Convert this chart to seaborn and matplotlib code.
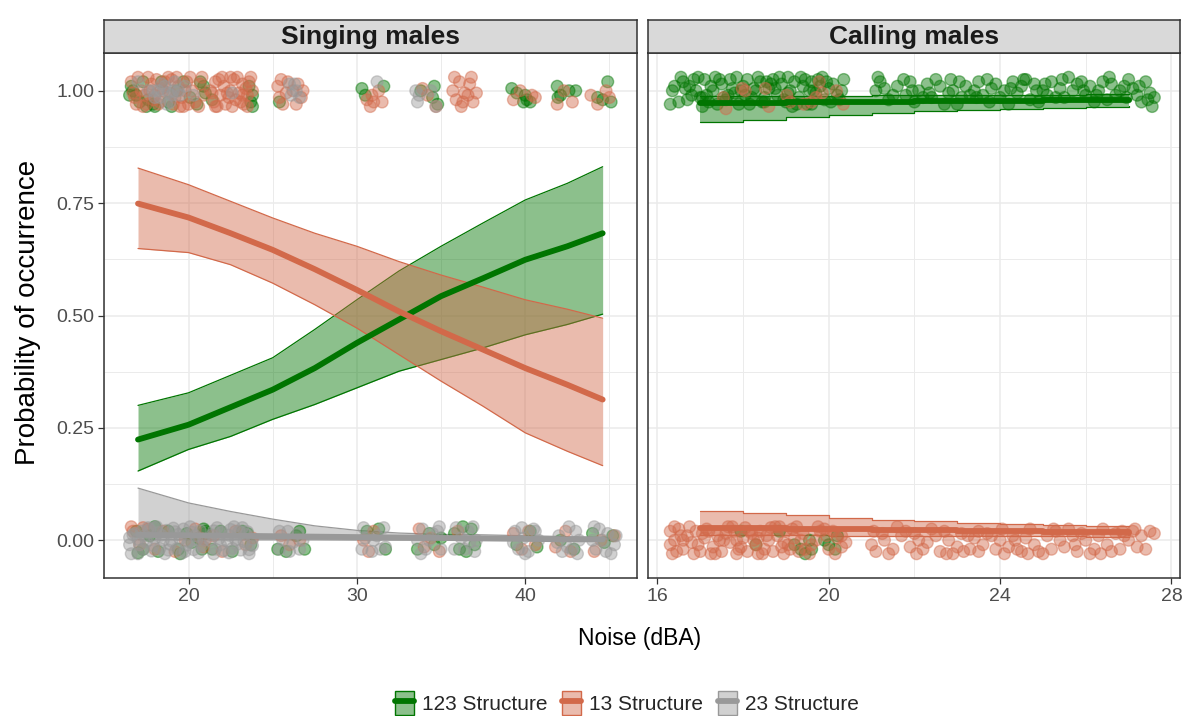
import pandas as pd
import matplotlib
matplotlib.use("Agg")
import matplotlib.pyplot as plt
import seaborn as sns
from matplotlib.patches import Patch
from matplotlib.lines import Line2D
from matplotlib.colors import to_rgba
from matplotlib.ticker import MultipleLocator, FormatStrFormatter

# ---------------- data ----------------
structures = ["123 Structure", "13 Structure", "23 Structure"]
colors = {"123 Structure": "#007500", "13 Structure": "#D2694A", "23 Structure": "#999999"}

# fitted curves, singing males
sing_x = [17.0, 20.0, 22.5, 25.0, 27.5, 30.0, 32.5, 35.0, 37.5, 40.0, 42.5, 44.6]
sing_123_fit = [0.224, 0.257, 0.296, 0.335, 0.383, 0.439, 0.491, 0.543, 0.583, 0.624, 0.654, 0.683]
sing_123_lo = [0.154, 0.202, 0.231, 0.269, 0.302, 0.339, 0.376, 0.402, 0.428, 0.457, 0.480, 0.503]
sing_123_hi = [0.300, 0.328, 0.367, 0.406, 0.469, 0.535, 0.599, 0.654, 0.706, 0.757, 0.794, 0.831]
sing_13_fit = [0.749, 0.718, 0.683, 0.646, 0.603, 0.557, 0.509, 0.465, 0.424, 0.383, 0.346, 0.313]
sing_13_lo = [0.649, 0.640, 0.613, 0.572, 0.524, 0.472, 0.413, 0.354, 0.298, 0.239, 0.198, 0.166]
sing_13_hi = [0.828, 0.791, 0.754, 0.717, 0.683, 0.654, 0.620, 0.590, 0.563, 0.535, 0.514, 0.494]
sing_23_fit = [0.012, 0.011, 0.010, 0.009, 0.008, 0.007, 0.006, 0.005, 0.004, 0.003, 0.002, 0.002]
sing_23_lo = [0.001, 0.001, 0.001, 0.001, 0.001, 0.0005, 0.0005, 0.0003, 0.0003, 0.0002, 0.0002, 0.0001]
sing_23_hi = [0.116, 0.083, 0.064, 0.047, 0.032, 0.022, 0.016, 0.013, 0.012, 0.010, 0.008, 0.006]

# fitted curves, calling males
call_x = [17, 18, 19, 20, 21, 22, 23, 24, 25, 26, 27]
call_123_fit = [0.972, 0.973, 0.974, 0.975, 0.976, 0.977, 0.977, 0.978, 0.979, 0.979, 0.980]
call_123_lo = [0.930, 0.936, 0.942, 0.947, 0.951, 0.954, 0.957, 0.960, 0.962, 0.964, 0.966]
call_123_hi = [0.988, 0.988, 0.989, 0.989, 0.990, 0.990, 0.991, 0.991, 0.991, 0.992, 0.992]
call_13_fit = [0.028, 0.027, 0.026, 0.025, 0.023, 0.022, 0.021, 0.020, 0.019, 0.018, 0.017]
call_13_lo = [0.011, 0.011, 0.011, 0.010, 0.010, 0.010, 0.009, 0.009, 0.009, 0.008, 0.008]
call_13_hi = [0.064, 0.060, 0.056, 0.050, 0.046, 0.043, 0.039, 0.037, 0.034, 0.031, 0.031]

# jittered raw observations, singing males
sing_123_x = [
    16.6, 16.9, 17.3, 17.6, 17.9, 18.4, 18.8, 19.3, 19.7, 20.1, 20.5, 20.9,
    21.4, 23.7, 23.6, 25.4, 30.3, 30.5, 31.6, 33.8, 34.6, 34.8, 34.5,
    39.2, 39.5, 40.1, 40.3, 40.0, 39.9, 41.9, 41.95, 42.6, 43.0, 42.1,
    44.3, 44.9, 45.1, 44.6,
    16.9, 17.3, 17.7, 18.2, 18.8, 19.4, 19.9, 20.2, 20.6, 20.8, 21.0,
    21.4, 21.9, 22.6, 23.2, 23.7, 23.5, 25.3, 25.8, 26.6, 26.9, 26.4,
    30.6, 31.3, 31.7, 33.6, 34.3, 34.6, 35.0, 35.8, 36.3, 36.8, 36.1, 36.5, 37.0,
    39.5, 40.3, 40.7, 42.1, 42.9, 44.0, 44.7, 45.2,
    16.5, 16.7, 17.1, 17.5, 18.0, 19.0, 20.7, 21.0, 23.8, 23.8,
    21.0, 20.9, 17.0, 19.5, 18.0]
sing_123_y = [
    1.01, 0.99, 1.02, 0.98, 0.97, 1.02, 0.975, 1.00, 1.02, 0.985, 0.97, 1.01,
    0.98, 0.975, 1.01, 0.975, 1.005, 0.99, 1.01, 1.0, 1.01, 0.97, 0.985,
    1.005, 0.995, 0.98, 0.975, 0.99, 0.975, 1.01, 0.985, 1.0, 1.0, 0.99,
    0.985, 1.02, 0.975, 0.98,
    0.02, -0.02, 0.01, -0.025, 0.02, -0.02, 0.015, -0.005, 0.005, -0.02, 0.015,
    -0.02, 0.02, -0.025, 0.02, -0.01, 0.015, -0.02, -0.025, 0.02, -0.02, 0.01,
    0.02, 0.025, -0.02, -0.02, 0.015, -0.01, 0.005, 0.015, 0.03, 0.025, -0.02, -0.025, -0.01,
    -0.01, 0.02, -0.015, 0.0, -0.02, 0.015, -0.005, 0.01,
    0.99, 1.0, 0.975, 0.965, 0.965, 0.965, 1.02, 0.995, 0.99, 0.965,
    0.02, 0.025, -0.028, -0.03, 0.03]

sing_13_x = [
    16.6, 16.8, 17.2, 17.5, 17.8, 18.0, 18.3, 18.6, 18.9, 19.1, 19.4, 19.6, 19.9, 20.2, 20.4, 20.7, 20.9, 18.1, 19.0, 17.4,
    21.3, 21.5, 21.6, 21.9, 22.1, 22.2, 22.5, 22.7, 22.8, 23.0, 23.2, 23.3, 23.5, 23.6, 23.8, 22.4, 21.8, 23.1,
    25.3, 25.4, 25.6, 25.9, 26.2, 26.5, 26.7, 30.9, 31.0, 31.3, 30.8, 33.9, 34.2, 34.7,
    35.7, 35.9, 36.1, 36.4, 36.7, 36.9, 36.2, 36.6, 39.3, 39.7, 40.4, 40.6, 41.9, 42.3, 42.8, 43.9, 44.3, 44.8, 45.0,
    16.7, 17.0, 17.3, 17.7, 18.2, 18.5, 18.8, 19.2, 19.5, 19.8, 20.1, 20.6, 16.9, 17.6, 18.4, 19.3, 20.0, 20.8, 17.9, 19.7,
    21.4, 21.7, 22.0, 22.3, 22.6, 22.9, 23.2, 23.5, 23.7, 21.6, 22.5, 23.4,
    25.8, 26.4, 25.5, 26.8, 31.5, 30.6, 35.8, 36.3, 36.8, 37.1,
    16.7, 17.1, 17.6, 18.5, 19.2, 19.8, 20.4, 20.9, 18.0, 21.0,
    21.5, 22.0, 22.8, 23.4, 23.8, 25.5, 26.0, 26.6, 30.4, 30.7, 31.0,
    33.7, 34.0, 34.4, 34.9, 36.0, 39.3, 39.8, 40.2, 40.6,
    41.8, 42.4, 42.7, 44.1, 44.5, 45.3, 16.6, 17.3, 20.7]
sing_13_y = [
    1.02, 0.985, 1.0, 0.97, 1.015, 0.99, 0.975, 1.02, 0.995, 0.97, 1.01, 0.985, 1.02, 1.0, 0.975, 1.015, 0.99, 1.025, 1.025, 0.99,
    1.0, 0.975, 1.02, 0.99, 1.01, 0.97, 1.0, 1.025, 0.98, 0.995, 1.015, 0.97, 0.99, 1.02, 1.0, 0.985, 1.025, 0.975,
    1.01, 0.985, 0.97, 1.02, 1.0, 1.015, 0.985, 0.99, 0.975, 1.0, 0.965, 1.005, 0.99, 0.965,
    1.0, 0.98, 1.02, 0.995, 1.015, 0.975, 0.965, 0.99, 0.98, 1.0, 0.99, 0.985, 0.97, 1.0, 0.975, 0.99, 0.97, 1.0, 0.985,
    0.995, 1.03, 0.965, 1.0, 0.97, 1.0, 1.03, 0.985, 0.965, 1.0, 1.03, 0.965, 0.97, 1.03, 1.005, 1.03, 0.97, 1.03, 0.98, 0.965,
    0.995, 0.965, 1.03, 0.995, 0.965, 1.03, 0.99, 0.965, 1.03, 0.965, 1.03, 1.005,
    0.995, 0.97, 1.025, 1.0, 0.975, 0.98, 1.03, 0.975, 1.03, 0.995,
    0.02, -0.01, 0.025, 0.02, -0.025, 0.0, 0.025, -0.015, -0.02, 0.0,
    0.01, -0.025, 0.02, -0.01, 0.005, 0.01, -0.01, 0.0, 0.0, -0.025, 0.02,
    0.025, -0.015, 0.005, -0.025, 0.02, 0.015, -0.02, 0.02, -0.01,
    -0.015, 0.02, -0.025, -0.025, 0.0, 0.01, 0.03, 0.028, 0.005]

sing_23_x = [
    17.0, 17.9, 18.3, 18.6, 18.9, 19.2, 19.5, 18.7, 22.6, 26.3, 26.6, 26.1, 31.2, 33.5, 33.7, 34.7,
    17.6, 18.0, 18.4, 18.8, 19.1, 19.4, 19.8, 20.3, 18.2, 19.0, 26.4, 26.0, 33.6, 34.4,
    17.2, 17.7, 18.2, 18.7, 19.2, 19.7, 20.2, 20.7,
    17.0, 17.5, 18.0, 18.5, 19.0, 19.5, 20.0, 20.5, 20.9,
    17.3, 17.8, 18.3, 18.8, 19.3, 19.8, 20.3,
    16.5, 16.6, 16.8,
    16.7, 17.1, 17.4, 17.9, 18.4, 18.9, 19.4, 19.9, 20.4, 20.8, 17.6, 18.1, 18.6, 19.1, 19.6, 20.1, 20.6, 16.5, 17.0, 18.0,
    21.5, 22.0, 22.5, 23.0, 23.5, 21.3, 21.8, 22.3, 22.8, 23.3, 23.8, 21.6, 22.1, 22.6, 23.1, 23.6,
    21.4, 21.9, 22.4, 22.9, 23.4, 23.8, 21.7, 22.7, 23.6, 21.5, 22.4, 23.2,
    25.4, 25.9, 26.5, 25.6, 26.2, 26.8, 25.4, 26.0, 26.6,
    30.3, 30.5, 31.4, 31.7, 30.9, 31.2,
    33.6, 33.9, 34.5, 35.0, 34.1, 34.8,
    35.8, 36.2, 36.6, 37.1, 36.4, 37.0,
    39.4, 39.9, 40.5, 39.6, 40.2, 40.8, 39.3,
    42.0, 42.5, 43.0, 42.2, 42.8, 43.2,
    44.0, 44.4, 44.9, 45.3, 44.2, 44.8, 45.4,
    30.4, 31.0, 31.6, 33.8, 34.3, 34.9, 35.9, 36.7, 36.9, 39.8, 40.0, 40.6, 41.9, 42.6, 43.1, 44.1, 44.6, 45.1]
sing_23_y = [
    1.02, 1.0, 0.985, 1.01, 0.975, 1.02, 0.99, 0.97, 0.995, 1.015, 0.985, 0.99, 1.02, 1.0, 0.99, 0.965,
    1.0, 0.985, 1.015, 0.995, 1.0, 1.0, 1.01, 0.99, 1.0, 0.99, 1.0, 1.015, 0.975, 1.0,
    0.02, 0.024, 0.017, 0.022, 0.019, 0.025, 0.018, 0.021,
    0.002, -0.003, 0.004, 0.0, -0.002, 0.003, -0.004, 0.001, 0.0,
    -0.02, -0.024, -0.018, -0.022, -0.019, -0.025, -0.021,
    -0.01, -0.03, 0.015,
    0.012, -0.01, 0.01, -0.012, 0.011, -0.009, 0.013, -0.011, 0.01, -0.012, 0.028, 0.03, -0.03, 0.027, -0.029, 0.03, -0.028, 0.006, -0.03, 0.029,
    0.021, 0.018, 0.024, 0.02, 0.019, 0.0, 0.003, -0.002, 0.001, -0.003, 0.002, -0.02, -0.023, -0.018, -0.022, -0.021,
    0.012, -0.01, 0.011, -0.009, 0.013, -0.012, 0.028, 0.03, -0.03, -0.03, -0.028, 0.028,
    0.02, 0.02, 0.015, 0.0, -0.005, 0.0, -0.02, -0.025, -0.02,
    -0.02, 0.005, -0.02, -0.015, -0.025, 0.01,
    0.0, 0.025, 0.015, -0.02, -0.02, 0.02,
    -0.02, 0.005, 0.02, 0.0, -0.02, -0.025,
    0.02, 0.005, 0.025, -0.02, -0.025, 0.0, -0.005,
    0.01, -0.015, 0.02, -0.025, -0.02, 0.0,
    0.0, 0.025, 0.015, -0.01, -0.02, -0.025, 0.01,
    0.028, 0.0, 0.028, -0.03, 0.0, 0.03, 0.028, -0.005, 0.03, 0.028, -0.03, 0.02, -0.005, 0.03, -0.03, 0.03, 0.0, -0.03]

# jittered raw observations, calling males
call_123_x = [
    16.3, 16.4, 16.6, 16.8, 16.9, 17.1, 17.2, 17.3, 17.5, 17.6, 17.7, 17.8, 17.9, 18.0, 18.1, 18.2, 18.3, 18.4, 18.5, 18.6, 18.7, 18.8,
    18.9, 19.0, 19.1, 19.2, 19.3, 19.4, 19.5, 19.6, 19.7, 19.8, 19.9, 20.0, 20.2, 20.3, 17.0, 17.4, 18.15, 18.55, 16.7, 17.95, 19.15, 19.55,
    16.35, 16.5, 16.65, 16.85, 17.05, 17.25, 17.45, 17.65, 17.85, 18.05, 18.25, 18.45, 18.65, 18.85, 19.05, 19.25, 19.45, 19.65, 19.85, 20.05,
    16.55, 16.75, 17.15, 17.35, 17.55, 17.75, 18.35, 18.75, 18.95, 19.35, 19.75, 19.95, 20.1, 20.25, 20.35, 16.95, 17.05, 18.5, 19.05, 19.6,
    21.1, 21.2, 21.4, 21.6, 21.8, 21.9, 22.1, 22.3, 22.4, 22.6, 22.8, 22.9, 23.1, 23.2, 23.4, 23.5, 23.6, 23.8, 23.9, 24.0, 24.1, 24.3, 24.4, 24.5, 24.7,
    24.8, 25.0, 25.1, 25.2, 25.4, 25.5, 25.7, 25.8, 26.0, 26.1, 26.3, 26.5, 26.6, 26.8, 26.9, 27.1, 27.2, 27.3, 27.4, 27.5, 27.6, 22.0, 23.0, 24.9, 26.2,
    21.15, 21.5, 21.75, 22.2, 22.5, 22.7, 23.05, 23.3, 23.7, 24.2, 24.6, 24.85, 25.3, 25.6, 25.9, 26.4, 26.7, 27.0, 27.45,
    21.3, 21.95, 22.35, 22.85, 23.45, 23.75, 24.25, 24.55, 25.05, 25.45, 25.95, 26.25, 26.55, 26.95, 27.25, 27.55,
    17.95, 18.3, 18.85, 19.2, 19.35, 19.45, 19.6, 19.9, 20.0, 20.15, 20.2, 19.55]
call_123_y = [
    0.97, 1.01, 1.02, 0.99, 1.0, 1.025, 0.975, 1.0, 1.015, 0.98, 1.025, 0.995, 0.97, 1.01, 1.025, 0.985, 1.0, 1.02, 0.975, 1.005, 1.025, 0.99,
    1.015, 0.975, 1.0, 1.02, 0.985, 1.01, 0.97, 1.02, 0.995, 1.01, 0.98, 1.005, 0.99, 1.0, 0.985, 0.97, 0.97, 1.02, 0.98, 1.0, 0.965, 1.0,
    1.0, 0.975, 1.005, 1.025, 0.985, 1.01, 1.025, 0.99, 1.03, 0.99, 1.005, 0.975, 1.015, 1.03, 0.995, 0.97, 1.025, 1.0, 1.03, 0.975,
    1.03, 1.01, 0.99, 1.03, 0.985, 1.005, 1.03, 1.005, 0.98, 1.03, 1.025, 1.02, 1.015, 0.98, 1.025, 1.03, 0.965, 0.985, 1.03, 0.97,
    1.0, 1.02, 0.98, 1.01, 0.99, 1.02, 1.0, 1.015, 0.985, 1.01, 0.995, 1.0, 0.985, 1.01, 1.0, 1.02, 0.99, 1.005, 1.015, 0.985, 1.0, 1.02, 0.995, 1.01, 0.98,
    1.015, 1.0, 0.99, 1.02, 1.005, 0.985, 1.0, 1.015, 0.99, 1.01, 1.0, 0.98, 1.015, 1.0, 1.01, 1.005, 0.99, 0.975, 1.02, 0.995, 0.985, 0.975, 0.97, 0.975, 0.975,
    1.03, 0.99, 1.025, 0.985, 1.025, 0.97, 1.02, 0.99, 1.025, 0.97, 1.025, 1.0, 0.985, 1.03, 1.02, 1.02, 0.99, 1.025, 0.98,
    1.005, 1.0, 0.995, 1.025, 0.985, 0.975, 1.005, 1.025, 1.015, 1.025, 1.0, 0.99, 1.03, 0.985, 1.01, 0.965,
    0.02, -0.01, 0.02, -0.01, -0.02, -0.03, -0.02, 0.0, -0.01, -0.02, 0.01, 0.0]

call_13_x = [
    17.54, 17.6, 17.98, 18.05, 18.52, 18.6, 19.02, 19.1, 19.42, 19.6, 19.78, 19.85, 20.18, 20.34, 19.7,
    16.3, 16.3, 16.4, 16.5, 16.6, 16.7, 16.8, 16.9, 17.0, 17.1, 17.2, 17.3, 17.4, 17.5, 17.6, 17.7, 17.8, 17.9, 18.0, 18.1, 18.2, 18.3,
    18.4, 18.5, 18.6, 18.7, 18.8, 18.9, 19.0, 19.1, 19.2, 19.3, 19.4, 19.6, 19.8, 20.0, 20.2, 20.3, 17.45, 18.35, 16.45, 17.85, 18.95,
    16.35, 16.55, 16.75, 16.95, 17.15, 17.35, 17.55, 17.75, 17.95, 18.15, 18.35, 18.55, 18.75, 18.95, 19.15, 19.35, 19.55, 19.75, 19.95, 20.15,
    16.4, 16.6, 16.85, 17.05, 17.25, 17.65, 17.85, 18.05, 18.25, 18.45, 18.65, 18.85, 19.05, 19.25, 19.45, 19.7, 19.9, 20.1, 20.3, 20.4,
    21.0, 21.1, 21.3, 21.5, 21.7, 21.9, 22.0, 22.2, 22.3, 22.5, 22.6, 22.8, 23.0, 23.1, 23.3, 23.4, 23.6, 23.7, 23.9, 24.0, 24.2, 24.3, 24.5,
    24.6, 24.8, 24.9, 25.1, 25.2, 25.4, 25.5, 25.7, 25.8, 26.0, 26.2, 26.3, 26.5, 26.7, 26.8, 27.0, 27.2, 27.3, 27.5, 27.6, 23.5, 22.1,
    21.05, 21.4, 21.8, 22.05, 22.4, 22.75, 23.15, 23.5, 23.8, 24.1, 24.4, 24.7, 25.0, 25.3, 25.6, 25.9, 26.1, 26.4, 26.6, 26.9, 27.1, 27.4,
    21.6, 22.7, 23.25, 24.05, 24.65, 25.25, 25.75, 26.35, 26.85, 27.15, 21.25, 22.9, 24.35]
call_13_y = [
    0.985, 0.96, 1.005, 1.0, 1.005, 0.965, 0.99, 0.975, 0.97, 0.975, 1.02, 0.995, 1.0, 0.97, 0.985,
    0.02, -0.01, 0.0, 0.025, -0.02, 0.01, -0.005, 0.02, -0.025, 0.005, 0.02, -0.015, 0.01, -0.025, 0.015, -0.005, 0.02, -0.02, 0.005, -0.025, 0.015, -0.01,
    0.02, -0.02, 0.0, -0.025, 0.01, -0.015, 0.02, -0.02, 0.005, -0.025, 0.015, -0.01, 0.02, -0.02, 0.005, -0.015, 0.0, 0.005, -0.025, 0.0, -0.005,
    -0.03, 0.01, 0.03, -0.01, 0.025, -0.03, 0.0, 0.03, -0.015, 0.02, -0.03, 0.01, 0.03, -0.03, 0.025, 0.0, -0.03, 0.03, 0.01, -0.03,
    0.03, 0.0, -0.03, 0.015, -0.03, 0.03, -0.03, 0.028, 0.0, -0.03, 0.028, 0.03, -0.01, 0.03, -0.02, 0.0, 0.025, 0.02, 0.01, -0.005,
    -0.01, -0.025, 0.0, -0.02, 0.01, -0.015, 0.015, -0.02, -0.005, 0.01, -0.025, 0.0, -0.015, 0.015, -0.02, 0.005, -0.01, 0.015, -0.02, 0.0, -0.015, 0.01, -0.025,
    0.005, -0.01, -0.025, 0.01, -0.02, 0.0, -0.015, 0.01, -0.025, 0.0, -0.02, 0.01, -0.01, 0.015, -0.02, 0.0, -0.015, 0.01, 0.02, 0.015, -0.025, 0.0,
    0.02, -0.03, 0.02, -0.03, 0.025, -0.03, -0.025, 0.02, 0.01, -0.03, -0.02, 0.025, -0.03, 0.02, 0.025, 0.015, -0.03, 0.025, -0.025, 0.01, 0.02, -0.02,
    0.03, 0.02, 0.01, 0.025, -0.03, 0.025, -0.01, -0.03, 0.02, 0.025, 0.015, -0.03, 0.0]


def points_frame(series):
    parts = []
    for name, xs, ys in series:
        parts.append(pd.DataFrame({"noise": xs, "prob": ys, "structure": name}))
    return pd.concat(parts, ignore_index=True)


def curve_frame(x, series):
    parts = []
    for name, fit, lo, hi in series:
        parts.append(pd.DataFrame({"noise": x, "fit": fit, "lo": lo, "hi": hi, "structure": name}))
    return pd.concat(parts, ignore_index=True)


sing_pts = points_frame([("123 Structure", sing_123_x, sing_123_y),
                         ("13 Structure", sing_13_x, sing_13_y),
                         ("23 Structure", sing_23_x, sing_23_y)])
call_pts = points_frame([("123 Structure", call_123_x, call_123_y),
                         ("13 Structure", call_13_x, call_13_y)])
sing_fit = curve_frame(sing_x, [("123 Structure", sing_123_fit, sing_123_lo, sing_123_hi),
                                ("13 Structure", sing_13_fit, sing_13_lo, sing_13_hi),
                                ("23 Structure", sing_23_fit, sing_23_lo, sing_23_hi)])
call_fit = curve_frame(call_x, [("123 Structure", call_123_fit, call_123_lo, call_123_hi),
                                ("13 Structure", call_13_fit, call_13_lo, call_13_hi)])

# ---------------- plotting ----------------
sns.set_theme(style="white")
plt.rcParams["font.family"] = ["Liberation Sans", "DejaVu Sans"]

W, H = 1186, 716
fig = plt.figure(figsize=(W / 100, H / 100), dpi=100)
panel_top, panel_bot = 53, 578
ax1 = fig.add_axes([104 / W, (H - panel_bot) / H, 533 / W, (panel_bot - panel_top) / H])
ax2 = fig.add_axes([648 / W, (H - panel_bot) / H, 532 / W, (panel_bot - panel_top) / H])


def draw_panel(ax, pts, fit, step):
    ds = "steps-post" if step else "default"
    for name in fit["structure"].unique():
        d = fit[fit["structure"] == name]
        c = colors[name]
        ax.fill_between(d["noise"], d["lo"], d["hi"], color=c, alpha=0.45, lw=0,
                        step="post" if step else None, zorder=2)
        ax.plot(d["noise"], d["lo"], color=c, lw=0.9, drawstyle=ds, zorder=2)
        ax.plot(d["noise"], d["hi"], color=c, lw=0.9, drawstyle=ds, zorder=2)
    sns.scatterplot(data=pts, x="noise", y="prob", hue="structure", palette=colors,
                    s=72, alpha=0.45, edgecolor="face", linewidth=1.0, legend=False,
                    ax=ax, zorder=3)
    sns.lineplot(data=fit, x="noise", y="fit", hue="structure", palette=colors,
                 lw=4.2, legend=False, errorbar=None, ax=ax, zorder=4, drawstyle=ds)


draw_panel(ax1, sing_pts, sing_fit, False)
draw_panel(ax2, call_pts, call_fit, True)

ax1.set_xlim(14.98, 46.64)
ax2.set_xlim(15.78, 28.2)
ax1.xaxis.set_major_locator(MultipleLocator(10))
ax1.xaxis.set_minor_locator(MultipleLocator(5))
ax2.xaxis.set_major_locator(MultipleLocator(4))
ax2.xaxis.set_minor_locator(MultipleLocator(2))

for ax in (ax1, ax2):
    ax.set_ylim(-0.084, 1.084)
    ax.yaxis.set_major_locator(MultipleLocator(0.25))
    ax.yaxis.set_minor_locator(MultipleLocator(0.125))
    ax.yaxis.set_major_formatter(FormatStrFormatter("%.2f"))
    ax.set_axisbelow(True)
    ax.grid(which="major", color="#EBEBEB", lw=1.1)
    ax.grid(which="minor", color="#EBEBEB", lw=0.7)
    ax.set_xlabel("")
    ax.set_ylabel("")
    for sp in ax.spines.values():
        sp.set_color("#333333")
        sp.set_linewidth(1.1)
    ax.tick_params(which="major", direction="out", length=4, width=0.9, color="#333333",
                   labelcolor="#4D4D4D", labelsize=14, bottom=True, left=True, pad=3)
    ax.tick_params(which="minor", length=0)
ax2.tick_params(axis="y", left=False, labelleft=False)

# facet strips
for ax, title in ((ax1, "Singing males"), (ax2, "Calling males")):
    pos = ax.get_position()
    strip = fig.add_axes([pos.x0, (H - panel_top) / H, pos.width, 33 / H])
    strip.set_facecolor("#D9D9D9")
    strip.set_xticks([])
    strip.set_yticks([])
    for sp in strip.spines.values():
        sp.set_color("#333333")
        sp.set_linewidth(1.1)
    strip.text(0.5, 0.47, title, ha="center", va="center", fontsize=19,
               fontweight="bold", color="#1A1A1A", transform=strip.transAxes)

fig.text(28 / W, (H - 312) / H, "Probability of occurrence", rotation=90,
         ha="center", va="center", fontsize=20, color="black")
fig.text(640 / W, (H - 638) / H, "Noise (dBA)", ha="center", va="center",
         fontsize=16.5, color="black")

handles = [(Patch(facecolor=to_rgba(colors[s], 0.45), edgecolor=colors[s], lw=1.0),
            Line2D([0], [0], color=colors[s], lw=4.2)) for s in structures]
fig.legend(handles, structures, loc="center", bbox_to_anchor=(627 / W, (H - 703) / H),
           ncol=3, frameon=False, fontsize=15, handlelength=0.9, handleheight=1.35,
           handletextpad=0.4, columnspacing=0.7, borderpad=0.1)

fig.savefig("out.png", dpi=100)
